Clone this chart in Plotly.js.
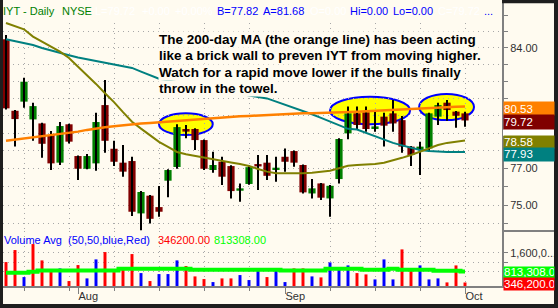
<!DOCTYPE html>
<html><head><meta charset="utf-8">
<script src="https://cdn.plot.ly/plotly-3.0.1.min.js"></script>
<style>html,body{margin:0;padding:0;background:#FFFBF0;}#chart{width:558px;height:308px;}</style>
</head><body><div id="chart"></div>
<script>
// ---- data (bar index 0..51) ----
const openP = [84.53,80.28,80.81,79.78,79.55,78.89,77.33,79.50,77.70,76.99,
77.29,80.61,78.11,77.33,77.42,74.55,75.51,74.89,76.33,77.09,
79.23,79.23,78.60,76.92,77.38,77.14,75.78,76.15,77.25,77.33,
76.92,77.66,77.98,77.20,75.63,76.18,75.36,76.42,78.98,80.13,
80.19,79.23,79.94,80.13,79.74,78.23,78.04,78.13,79.94,80.75,
80.23,80.13];
const highP = [84.79,80.32,82.22,80.75,79.59,79.11,79.63,79.53,77.73,77.81,
80.17,82.08,78.56,78.32,77.66,75.76,75.55,76.04,76.96,79.50,
79.46,79.27,78.63,77.94,77.66,77.18,76.18,77.18,77.76,77.76,
77.66,78.13,78.01,77.23,76.42,76.21,76.09,78.70,80.52,80.52,
80.52,80.23,80.17,80.90,79.98,78.27,78.51,80.17,80.75,80.90,
80.27,80.23];
const lowP = [80.35,78.23,80.46,78.56,77.61,76.92,77.20,78.41,76.37,76.96,
76.88,77.89,77.14,76.55,74.41,73.65,74.01,74.37,75.42,76.99,
78.70,78.04,76.92,76.77,76.09,75.36,75.18,76.11,75.82,76.37,
76.27,76.83,77.10,75.63,75.36,75.27,74.37,76.18,78.64,79.17,
79.08,79.08,78.23,79.08,77.89,77.14,76.64,77.94,79.46,79.71,
79.30,79.36];
const closeP = [80.42,79.80,81.98,80.55,78.39,77.29,79.40,78.51,76.99,77.70,
79.63,78.56,77.38,76.83,74.64,75.71,74.26,74.64,76.92,79.34,
79.08,78.60,76.99,77.20,76.55,75.76,75.91,77.08,77.12,76.60,
77.05,77.38,77.33,75.69,75.91,75.40,76.05,78.66,80.13,79.46,
79.23,79.38,79.42,79.55,78.23,77.76,78.23,80.13,80.61,80.32,
79.99,79.72];
const ma200 = [78.56,78.62,78.69,78.75,78.81,78.87,78.93,78.98,79.08,79.18,
79.27,79.33,79.39,79.45,79.50,79.54,79.58,79.62,79.65,79.70,
79.75,79.80,79.84,79.87,79.91,79.94,79.96,79.98,80.01,80.03,
80.06,80.08,80.11,80.13,80.14,80.15,80.16,80.18,80.21,80.23,
80.25,80.28,80.30,80.32,80.35,80.37,80.40,80.42,80.45,80.48,
80.51,80.53];
const ma50 = [84.53,84.41,84.30,84.18,84.00,83.84,83.70,83.56,83.42,83.32,
83.24,83.12,83.00,82.90,82.80,82.58,82.35,82.16,82.06,81.96,
81.86,81.76,81.66,81.56,81.46,81.36,81.25,81.16,81.08,81.00,
80.82,80.64,80.45,80.28,80.08,79.87,79.65,79.42,79.24,79.20,
79.00,78.80,78.60,78.44,78.30,78.16,78.04,77.98,77.94,77.93,
77.93,77.93];
const ma20 = [85.53,85.33,85.14,84.69,84.40,84.10,83.78,83.40,82.90,82.35,
81.85,81.30,80.78,80.20,79.65,79.25,78.90,78.50,78.22,77.93,
77.80,77.70,77.60,77.50,77.42,77.34,77.25,77.14,76.98,76.83,
76.74,76.73,76.73,76.74,76.77,76.81,76.88,77.02,77.16,77.20,
77.23,77.25,77.33,77.45,77.60,77.76,77.94,78.14,78.32,78.44,
78.52,78.58];
const volume = [1205000,1711000,574000,1963000,1276000,869000,939000,406000,1079000,518000,
1318000,1626000,784000,911000,1542000,742000,406000,700000,700000,1276000,
1037000,602000,490000,363000,518000,518000,658000,448000,869000,574000,
911000,363000,939000,939000,602000,560000,1191000,939000,1065000,742000,
686000,476000,1318000,476000,1739000,897000,1065000,476000,518000,349000,
1065000,346200];
const volAvg = [757000,757000,757000,799000,855000,855000,855000,855000,855000,855000,
855000,855000,855000,925000,925000,925000,925000,925000,925000,925000,
925000,883000,883000,883000,883000,883000,883000,883000,883000,883000,
883000,855000,855000,855000,855000,855000,925000,925000,925000,925000,
883000,883000,883000,925000,883000,883000,883000,883000,841000,841000,
841000,813308];
const weekTicks = [2,7,12,17,22,27,36,41,46,51];
const monthTicks = [8,31,51];
const monthLabels = ['Aug','Sep','Oct'];
const priceTicks = [74,75,76,77,78,79,80,81,82,83,84,85,86];
const priceTickLabels = ['','75.00','','77.00','','','','','','','84.00','',''];
const volTicks = [800000,1200000,1600000];
const volTickLabels = ['','','1,600,0...'];
const lastValues = {ma200:'80.53', close:'79.72', ma20:'78.58', ma50:'77.93', volAvg:'813,308.0', volume:'346,200.0'};

// ---- layout helpers ----
const W=558,H=308,ML=3,MR=56,MT=3,MB=22;
const PW=W-ML-MR, PH=H-MT-MB;
const px=x=>(x-ML)/PW, py=y=>(H-MB-y)/PH;
const split = py(231);
const CREAM='#FFFBF0', DARK='#1e1e1e', GRID='#a8a8a8', AX='#808080';
const FONT='Liberation Sans, Arial, sans-serif';
const idx = closeP.map((_,i)=>i);
const L10 = Math.log10;

// wicks
const wx=[], wy=[];
idx.forEach(i=>{wx.push(i,i,null); wy.push(lowP[i],highP[i],null);});

const traces = [
 {type:'scatter',mode:'lines',x:wx,y:wy,xaxis:'x',yaxis:'y',line:{color:'#000',width:2},hoverinfo:'skip'},
 {type:'bar',x:idx,base:idx.map(i=>Math.min(openP[i],closeP[i])),
  y:idx.map(i=>Math.max(Math.abs(closeP[i]-openP[i]),0.03)),
  marker:{color:idx.map(i=>closeP[i]>=openP[i]?'#008000':'#800000'),line:{width:0}},
  width:0.8,xaxis:'x',yaxis:'y',hoverinfo:'skip'},
 {type:'scatter',mode:'lines',x:idx,y:ma50,line:{color:'#008080',width:2},xaxis:'x',yaxis:'y'},
 {type:'scatter',mode:'lines',x:idx,y:ma20,line:{color:'#808000',width:2},xaxis:'x',yaxis:'y'},
 {type:'scatter',mode:'lines',x:idx,y:ma200,line:{color:'#FF8000',width:2.5},xaxis:'x',yaxis:'y'},
 {type:'bar',x:idx,y:volume,
  marker:{color:idx.map(i=>(i>0&&closeP[i]>=closeP[i-1])?'#0000FF':'#FF0000'),line:{width:0}},
  width:0.33,xaxis:'x',yaxis:'y2'},
 {type:'scatter',mode:'lines',x:idx,y:volAvg,line:{color:'#00FF00',width:4,shape:'hvh'},xaxis:'x2',yaxis:'y2'}
];

const xr=[-1/3,(502-6)/9];
const ellipses = [
 {x0:17.0,x1:22.97,lo:78.89,hi:80.13},
 {x0:36.0,x1:44.9,lo:79.50,hi:81.10},
 {x0:45.9,x1:52.0,lo:79.74,hi:81.26}
];
const shapes = ellipses.map(e=>({type:'circle',xref:'x',yref:'y',x0:e.x0,x1:e.x1,y0:e.lo,y1:e.hi,
  fillcolor:'#FFFF00',line:{color:'#0000FF',width:2},layer:'below'}));
shapes.push(
 {type:'rect',xref:'paper',yref:'paper',x0:0,x1:1,y0:py(19.5),y1:1,fillcolor:CREAM,line:{width:0},layer:'above'},
 {type:'line',xref:'paper',yref:'paper',x0:px(502),x1:px(554),y0:py(231),y1:py(231),line:{color:AX,width:2}},
 {type:'rect',xref:'paper',yref:'paper',x0:px(503),x1:px(554),y0:py(136),y1:py(129.5),fillcolor:'#FFFFFF',line:{width:0}},
 {type:'rect',xref:'paper',yref:'paper',x0:px(0),x1:px(3),y0:py(308),y1:py(0),fillcolor:DARK,line:{width:0}},
 {type:'rect',xref:'paper',yref:'paper',x0:px(554),x1:px(558),y0:py(308),y1:py(0),fillcolor:DARK,line:{width:0}},
 {type:'rect',xref:'paper',yref:'paper',x0:px(0),x1:px(558),y0:py(308),y1:py(304),fillcolor:DARK,line:{width:0}},
 {type:'rect',xref:'paper',yref:'paper',x0:px(502),x1:px(558),y0:py(3.3),y1:py(0),fillcolor:DARK,line:{width:0}}
);

const ann = [];
const txt=(t,x,y,color,size,bold,extra)=>{ann.push(Object.assign({xref:'paper',yref:'paper',x:px(x),y:py(y),xanchor:'left',yanchor:'middle',
  text:bold?'<b>'+t+'</b>':t,showarrow:false,font:{family:FONT,size:size,color:color},borderpad:0},extra||{}));};
const lines=['The 200-day MA (the orange line) has been acting','like a brick wall to preven IYT from moving higher.',
 'Watch for a rapid move lower if the bulls finally','throw in the towel.'];
const lineY=[39,55.7,72.2,88.4];
for(let k=3;k>=0;k--) txt(lines[k],157.5,lineY[k],'#000',13.5,true,{bgcolor:CREAM});
[['IYT - Daily',3,'#008000'],['NYSE',62,'#008000'],['L=79.72',95,'#FFFFFF'],['+0.00',142,'#FFFFFF'],['+0.00%',175,'#FFFFFF'],
 ['B=77.82',217,'#0000FF'],['A=81.68',263,'#0000FF'],['O=0.00',310,'#FFFFFF'],['Hi=0.00',350,'#0000FF'],['Lo=0.00',393,'#0000FF'],
 ['C=79.72',438,'#FFFFFF'],['...',484,'#0000FF']].forEach(h=>txt(h[0],h[1]-1,11.5,h[2],11,false));
txt('Volume Avg  (50,50,blue,Red)',2.5,240,'#0000FF',11,false);
txt('346200.00',156.5,240,'#FF0000',11,false);
txt('813308.00',212.5,240,'#00FF00',11,false);
const box=(t,yref,yv,bg,h,sh)=>ann.push({xref:'paper',yref:yref,x:1,y:yv,xanchor:'left',yanchor:'middle',xshift:1,yshift:sh,
  text:t,showarrow:false,width:50,height:h,align:'left',bgcolor:bg,borderpad:0,font:{family:FONT,size:11.5,color:'#FFFFFF'}});
box(lastValues.ma200,'y',L10(ma200[51]),'#FF8000',13.3,-2);
box(lastValues.close,'y',L10(closeP[51]),'#800000',13.6,-2);
box(lastValues.ma20,'y',L10(ma20[51]),'#808000',12.3,-1.8);
box(lastValues.ma50,'y',L10(ma50[51]),'#008080',12.7,-2.8);
box(lastValues.volAvg,'y2',volAvg[51],'#00FF00',10.6,-1.6);
box(lastValues.volume,'y2',volume[51],'#FF0000',12.4,-2);

const gridStyle={showgrid:true,gridcolor:GRID,griddash:'1px,4px',gridwidth:1};
const layout={
 width:W,height:H,margin:{l:ML,r:MR,t:MT,b:MB,pad:0},
 paper_bgcolor:CREAM,plot_bgcolor:'rgba(0,0,0,0)',showlegend:false,hovermode:false,barmode:'overlay',
 font:{family:FONT,size:11,color:'#303030'},
 xaxis:Object.assign({domain:[0,1],anchor:'y2',range:xr,showline:true,linecolor:AX,linewidth:1.5,zeroline:false,
   ticks:'outside',tickmode:'array',tickvals:weekTicks,ticklen:3,tickcolor:AX,tickwidth:1,showticklabels:false},gridStyle),
 xaxis2:{overlaying:'x',anchor:'y2',side:'bottom',range:xr,showline:false,showgrid:false,zeroline:false,
   ticks:'outside',tickmode:'array',tickvals:monthTicks,ticktext:monthLabels,ticklen:7,tickcolor:AX,tickwidth:1,
   ticklabelposition:'outside right',tickfont:{family:FONT,size:11,color:'#303030'}},
 yaxis:Object.assign({domain:[split,1],type:'log',range:[L10(73.61),L10(86.77)],side:'right',anchor:'x',
   showline:true,linecolor:AX,linewidth:2,zeroline:false,ticks:'outside',ticklen:4,tickcolor:AX,
   tickmode:'array',tickvals:priceTicks,ticktext:priceTickLabels,tickfont:{family:FONT,size:11,color:'#303030'}},gridStyle),
 yaxis2:Object.assign({domain:[0,split],range:[198000,2513000],side:'right',anchor:'x',
   showline:true,linecolor:AX,linewidth:2,zeroline:false,ticks:'outside',ticklen:4,tickcolor:AX,
   tickmode:'array',tickvals:volTicks,ticktext:volTickLabels,tickfont:{family:FONT,size:11,color:'#303030'}},gridStyle),
 shapes:shapes,annotations:ann
};
Plotly.newPlot('chart',traces,layout,{staticPlot:true,displayModeBar:false});
</script></body></html>
